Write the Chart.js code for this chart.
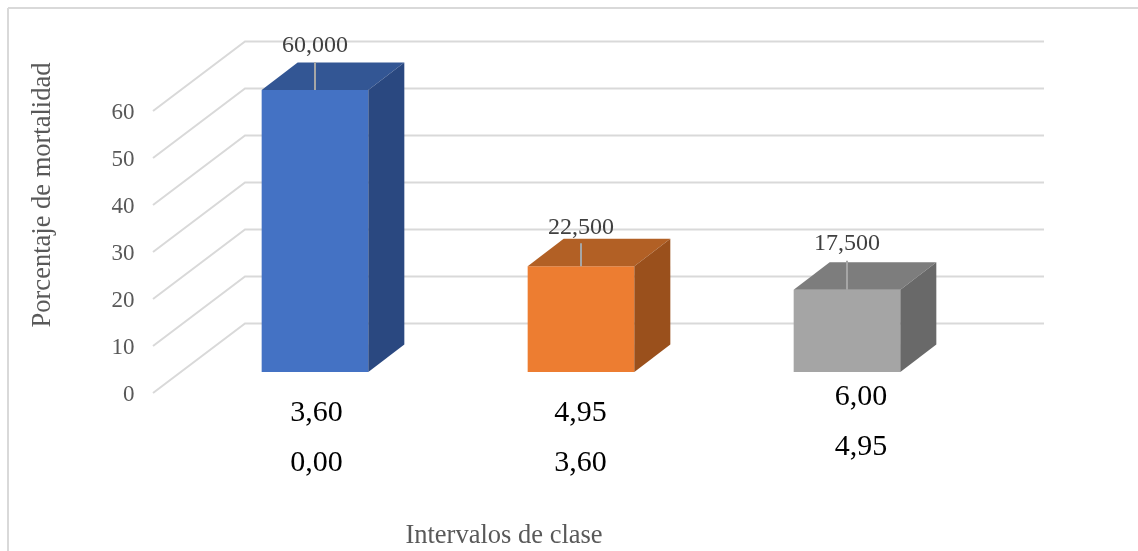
<!DOCTYPE html>
<html>
<head>
<meta charset="utf-8">
<script src="https://cdn.jsdelivr.net/npm/chart.js@4"></script>
<style>
    html, body { margin: 0; padding: 0; background: #fff; overflow: hidden; }
    canvas { display: block; }
</style>
</head>
<body>
<canvas id="mortalidad" width="1138" height="551"></canvas>
<script>
var upperBounds = ["3,60", "4,95", "6,00"];
var lowerBounds = ["0,00", "3,60", "4,95"];
var mortality = [60, 22.5, 17.5];
var valueLabels = ["60,000", "22,500", "17,500"];
var yTicks = [0, 10, 20, 30, 40, 50, 60];
var yTitle = "Porcentaje de mortalidad";
var xTitle = "Intervalos de clase";

var frontColors = ["#4472C4", "#ED7D31", "#A5A5A5"];
var sideColors = ["#2A4880", "#9A501C", "#696969"];
var topColors = ["#335694", "#B26025", "#7D7D7D"];

var serif = "'Liberation Serif'";

// 3d look: how far the box and the walls are pushed from the bar front
var boxDepth = { x: 36, y: -27.5 };
var wallFront = { x: 153, y: 21 };
var wallBack = { x: 245, y: -48.5, right: 1044 };

// per-bar nudges, the original labels were moved by hand
var labelLift = [44, 39, 46];
var leaderLift = [28, 23, 29];
var labelShift = [0, 0, 0];
var categoryLift = [0, 0, 16];
var categoryShift = [1.5, -0.5, 14];

function line(ctx, x1, y1, x2, y2, color, width) {
    ctx.strokeStyle = color;
    ctx.lineWidth = width;
    ctx.beginPath();
    ctx.moveTo(x1, y1);
    ctx.lineTo(x2, y2);
    ctx.stroke();
}

function poly(ctx, pts, color) {
    ctx.fillStyle = color;
    ctx.beginPath();
    ctx.moveTo(pts[0][0], pts[0][1]);
    for (let i = 1; i < pts.length; i++) {
        ctx.lineTo(pts[i][0], pts[i][1]);
    }
    ctx.closePath();
    ctx.fill();
}

function text(ctx, str, x, y, font, color, align) {
    ctx.font = font;
    ctx.fillStyle = color;
    ctx.textAlign = align || "center";
    ctx.textBaseline = "middle";
    ctx.fillText(str, x, y);
}

var walls = {
    id: "walls",
    beforeDatasetsDraw: function(chart) {
        var ctx = chart.ctx;
        var scale = chart.scales.y;
        ctx.save();
        // outer frame
        line(ctx, 8, 8, 1138, 8, "#D9D9D9", 2);
        line(ctx, 8, 8, 8, 551, "#D9D9D9", 2);
        yTicks.forEach(function(v) {
            var y = scale.getPixelForValue(v);
            ctx.lineJoin = "miter";
            ctx.strokeStyle = "#D9D9D9";
            ctx.lineWidth = 2;
            ctx.beginPath();
            ctx.moveTo(wallFront.x, y + wallFront.y);
            ctx.lineTo(wallBack.x, y + wallBack.y);
            ctx.lineTo(wallBack.right, y + wallBack.y);
            ctx.stroke();
            text(ctx, String(v), 134.5, y + wallFront.y + 2, "23px " + serif, "#595959", "right");
        });
        ctx.restore();
    }
};

var boxes = {
    id: "boxes",
    afterDatasetsDraw: function(chart) {
        var ctx = chart.ctx;
        var bars = chart.getDatasetMeta(0).data;
        ctx.save();
        bars.forEach(function(bar, i) {
            var left = bar.x - bar.width / 2;
            var right = bar.x + bar.width / 2;
            var d = boxDepth;
            poly(ctx, [[left, bar.y], [right, bar.y], [right + d.x, bar.y + d.y], [left + d.x, bar.y + d.y]], topColors[i]);
            poly(ctx, [[right, bar.y], [right + d.x, bar.y + d.y], [right + d.x, bar.base + d.y], [right, bar.base]], sideColors[i]);

            line(ctx, bar.x, bar.y, bar.x, bar.y - leaderLift[i], "#A6A6A6", 2);
            text(ctx, valueLabels[i], bar.x + labelShift[i], bar.y - labelLift[i], "24px " + serif, "#404040");

            text(ctx, upperBounds[i], bar.x + categoryShift[i], bar.base + 41 - categoryLift[i], "30px " + serif, "#000000");
            text(ctx, lowerBounds[i], bar.x + categoryShift[i], bar.base + 91 - categoryLift[i], "30px " + serif, "#000000");
        });

        text(ctx, xTitle, 504, 536, "26.5px " + serif, "#595959");
        ctx.translate(43, 195);
        ctx.rotate(-Math.PI / 2);
        text(ctx, yTitle, 0, 0, "26.5px " + serif, "#595959");
        ctx.restore();
    }
};

new Chart(document.getElementById("mortalidad").getContext("2d"), {
    type: "bar",
    data: {
        labels: upperBounds.map(function(u, i) { return lowerBounds[i] + " - " + u; }),
        datasets: [{
            data: mortality,
            backgroundColor: frontColors,
            barPercentage: 0.401,
            categoryPercentage: 1
        }]
    },
    options: {
        responsive: false,
        animation: false,
        layout: { padding: { left: 182, right: 158, top: 90, bottom: 179 } },
        plugins: { legend: { display: false }, tooltip: { enabled: false } },
        scales: {
            x: { display: false },
            y: { display: false, min: 0, max: 60 }
        }
    },
    plugins: [walls, boxes]
});
</script>
</body>
</html>
